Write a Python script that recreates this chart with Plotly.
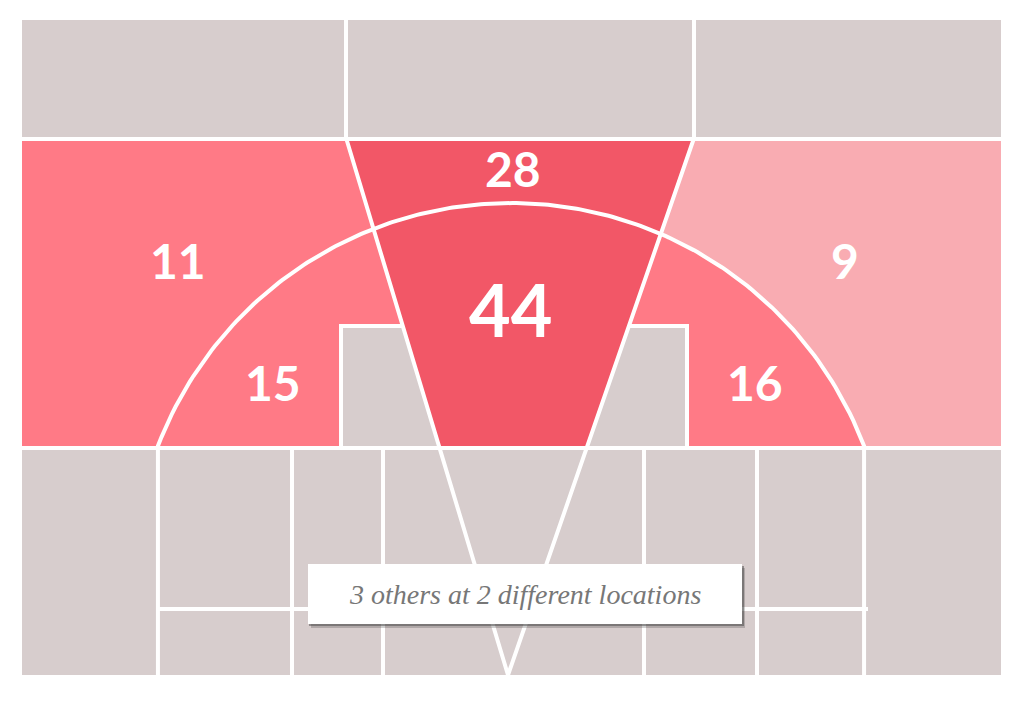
import numpy as np
import plotly.graph_objects as go

# ---------------- data ----------------
zone_names = ["Left corner/wing 3", "Top of key 3", "Right corner/wing 3",
              "Left mid-range", "Paint", "Right mid-range"]
zone_values = [11, 28, 9, 15, 44, 16]
note_text = "3 others at 2 different locations"

# ---------------- styling ----------------
GREY = "#D7CDCD"
WHITE = "#FFFFFF"


def zone_color(v):
    if v >= 25:
        return "#F25767"
    if v >= 10:
        return "#FF7A86"
    return "#F9ACB2"


# ---------------- court geometry (chart units) ----------------
X0, X1 = 22, 1001          # outer court box
Y0, Y1 = 20, 675
YT = 139                   # line between top row and band
YB = 448                   # line between band and bottom row
TOP_TL, TOP_TR = 347, 693  # trapezoid top corners (y=141)
APEX = (508, 675)          # converging point of the lane lines
CX, CY, R = 511, 581, 378  # arc circle
PAINT_L, PAINT_R, PAINT_T = 341, 687, 326
PAGE_OFF = 8               # browser body margin


def lane_left(y):
    return TOP_TL + (y - 141) * (APEX[0] - TOP_TL) / (APEX[1] - 141)


def lane_right(y):
    return TOP_TR + (y - 141) * (APEX[0] - TOP_TR) / (APEX[1] - 141)


def arc_y(x):
    return CY - np.sqrt(np.maximum(R ** 2 - (x - CX) ** 2, 0))


ARC_XL = CX - np.sqrt(R ** 2 - (CY - 446) ** 2)
ARC_XR = CX + np.sqrt(R ** 2 - (CY - 446) ** 2)


def intersect(lane):
    lo, hi = 141.0, 446.0
    for _ in range(60):
        mid = (lo + hi) / 2
        if arc_y(lane(mid)) - mid > 0:
            lo = mid
        else:
            hi = mid
    y = (lo + hi) / 2
    return lane(y), y


ixl, iyl = intersect(lane_left)
ixr, iyr = intersect(lane_right)

fig = go.Figure()


def poly(xs, ys, color):
    fig.add_trace(go.Scatter(x=list(xs), y=list(ys), mode="lines", fill="toself",
                             fillcolor=color, line=dict(width=0, color=color),
                             hoverinfo="skip", showlegend=False))


def line(xs, ys, w=4):
    fig.add_trace(go.Scatter(x=list(xs), y=list(ys), mode="lines",
                             line=dict(color=WHITE, width=w),
                             hoverinfo="skip", showlegend=False))


v11, v28, v9, v15, v44, v16 = zone_values

# background
poly([X0, X1, X1, X0], [Y0, Y0, Y1, Y1], GREY)
# band outer zones
poly([X0, lane_left(YT), lane_left(YB), X0], [YT, YT, YB, YB], zone_color(v11))
poly([lane_right(YT), X1, X1, lane_right(YB)], [YT, YT, YB, YB], zone_color(v9))
# mid-range halves of the arc
xs_l = np.linspace(ARC_XL, CX, 80)
poly(list(xs_l) + [CX, ARC_XL], list(arc_y(xs_l)) + [YB, YB], zone_color(v15))
xs_r = np.linspace(CX, ARC_XR, 80)
poly(list(xs_r) + [ARC_XR, CX], list(arc_y(xs_r)) + [YB, YB], zone_color(v16))
# paint box (grey)
poly([PAINT_L, PAINT_R, PAINT_R, PAINT_L], [PAINT_T, PAINT_T, YB, YB], GREY)
# trapezoid: top of key and paint
poly([lane_left(YT), lane_right(YT), lane_right(YB), lane_left(YB)], [YT, YT, YB, YB],
     zone_color(v28))
xs_c = np.linspace(ixl, ixr, 80)
poly(list(xs_c) + [lane_right(YB), lane_left(YB)], list(arc_y(xs_c)) + [YB, YB],
     zone_color(v44))

# white lines
line([X0, X1], [YT, YT])
line([X0, X1], [YB, YB])
for xv in (346, 694):
    line([xv, xv], [Y0, YT])
line([lane_left(YT), APEX[0], lane_right(YT)], [YT, APEX[1], YT])
xs_a = np.linspace(ARC_XL, ARC_XR, 200)
line([ARC_XL] + list(xs_a) + [ARC_XR], [Y1] + list(arc_y(xs_a)) + [Y1])
line([lane_left(PAINT_T), PAINT_L, PAINT_L], [PAINT_T, PAINT_T, YB])
line([lane_right(PAINT_T), PAINT_R, PAINT_R], [PAINT_T, PAINT_T, YB])
for xv in (292, 383, 644, 757):
    line([xv, xv], [YB, Y1])
line([158, 868], [609, 609])

# note box with shadow
fig.add_shape(type="rect", x0=311, x1=745, y0=568, y1=628, line_width=0,
              fillcolor="rgba(60,60,60,0.25)", layer="above")
fig.add_shape(type="rect", x0=309, x1=744, y0=566, y1=626, line_width=0,
              fillcolor="rgba(60,60,60,0.45)", layer="above")
fig.add_shape(type="rect", x0=308, x1=742, y0=564, y1=624, line_width=0,
              fillcolor="white", layer="above")
fig.add_annotation(x=525, y=594, text=note_text, showarrow=False,
                   font=dict(family="Liberation Serif", size=28, color="#777777",
                             style="italic"),
                   xanchor="center", yanchor="middle")

# value labels
label_pos = [(178, 260), (513, 168), (845, 260), (273, 382), (511, 309), (755, 382)]
label_size = [48, 48, 48, 48, 72, 48]
for (lx, ly), v, s in zip(label_pos, zone_values, label_size):
    fig.add_annotation(x=lx, y=ly, text=str(v), showarrow=False,
                       font=dict(family="Lato", size=s, color="white", weight="bold"),
                       xanchor="center", yanchor="middle")

fig.update_layout(width=1024, height=703, margin=dict(l=0, r=0, t=0, b=0),
                  paper_bgcolor="white", plot_bgcolor="white", showlegend=False)
fig.update_xaxes(range=[PAGE_OFF, 1024 + PAGE_OFF], visible=False, fixedrange=True)
fig.update_yaxes(range=[703 + PAGE_OFF, PAGE_OFF], visible=False, fixedrange=True)
fig.write_html("out.html")
